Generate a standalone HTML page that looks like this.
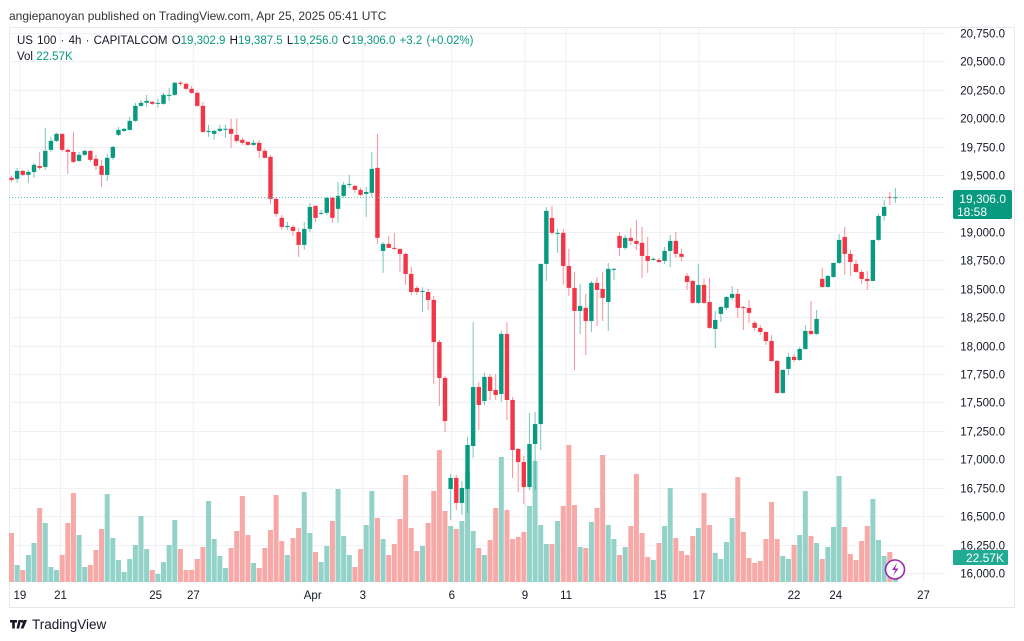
<!DOCTYPE html>
<html><head><meta charset="utf-8">
<style>
body{margin:0;background:#fff;width:1024px;height:641px;overflow:hidden;font-family:"Liberation Sans",sans-serif;}
svg{position:absolute;left:0;top:0;}
</style></head>
<body>
<svg id="c" width="1024" height="641">
<text x="9" y="20" font-size="12" fill="#333">angiepanoyan published on TradingView.com, Apr 25, 2025 05:41 UTC</text>
<rect x="9.5" y="27.5" width="1005" height="580" fill="none" stroke="#e6e8ee"/>
<g id="grid"></g>
<g id="vols"></g>
<g id="candles"></g>
<line x1="9" x2="945" y1="197.5" y2="197.5" stroke="#5fc2b4" stroke-dasharray="1,2"/>
<g id="yaxis"></g>
<g id="xaxis"></g>
<g font-size="11.5">
<text x="17" y="44" fill="#131722" word-spacing="1">US 100 · 4h · CAPITALCOM  <tspan fill="#131722">O</tspan><tspan fill="#089981">19,302.9</tspan>  <tspan fill="#131722">H</tspan><tspan fill="#089981">19,387.5</tspan>  <tspan fill="#131722">L</tspan><tspan fill="#089981">19,256.0</tspan>  <tspan fill="#131722">C</tspan><tspan fill="#089981">19,306.0</tspan>  <tspan fill="#089981">+3.2 (+0.02%)</tspan></text>
<text x="17" y="60" fill="#131722">Vol <tspan fill="#089981">22.57K</tspan></text>
</g>
<rect x="953" y="190" width="59" height="29" rx="2" fill="#089981"/>
<text x="1006" y="203" font-size="12" fill="#fff" text-anchor="end">19,306.0</text>
<text x="957" y="216" font-size="12" fill="#fff">18:58</text>
<rect x="953" y="550" width="55" height="15" rx="1" fill="#22ab94"/>
<text x="1004" y="562" font-size="12" fill="#fff" text-anchor="end">22.57K</text>
<g><circle cx="895" cy="569.5" r="9.5" fill="#fff" stroke="#9c27b0" stroke-width="1.6"/><path d="M897 563 L892 570 L895.5 570 L893 576 L898.5 568.5 L895 568.5 Z" fill="#9c27b0"/></g>
<g><path d="M10 620 h7 v2.5 h-2.2 v6 h-2.6 v-6 h-2.2 Z M18.5 620 h2.6 l-2 8.5 h-2.6 Z" fill="#131722"/><circle cx="22.2" cy="621.3" r="1.4" fill="#131722"/><path d="M24 620 h3 l-3.5 8.5 h-2.8 Z" fill="#131722"/>
<text x="32" y="629" font-size="13.5" fill="#131722">TradingView</text></g>
</svg>
<script>
const open=[19476,19467,19537,19502,19528,19581,19572,19722,19801,19863,19722,19704,19625,19678,19713,19643,19581,19502,19652,19854,19889,19898,19977,20109,20136,20144,20127,20127,20197,20206,20312,20303,20259,20224,20109,19880,19863,19889,19907,19907,19854,19810,19792,19766,19784,19713,19660,19291,19124,19053,19044,19000,18886,19027,19229,19168,19168,19300,19203,19317,19423,19405,19370,19335,19344,19564,18833,18895,18860,18851,18807,18631,18508,18481,18472,18402,18032,17716,16739,16836,16616,16739,17117,17636,17513,17725,17610,17575,18103,17522,17091,16976,16756,17135,17310,18719,19124,18992,18992,18701,18508,18305,18332,18217,18552,18499,18384,18675,18965,18860,18948,18921,18904,18789,18763,18754,18745,18833,18921,18807,18613,18569,18376,18534,18384,18147,18279,18332,18420,18455,18340,18332,18200,18156,18120,18041,17865,17584,17795,17901,17874,17971,18129,18103,18587,18516,18604,18728,18956,18807,18719,18648,18587,18569,18930,19141,19308,19300];
const high=[19493,19564,19546,19546,19608,19704,19916,19836,19872,19863,19731,19880,19704,19722,19722,19678,19634,19687,19757,19924,19916,20012,20136,20162,20206,20153,20171,20224,20268,20320,20328,20312,20285,20241,20144,19942,19898,19942,19942,19995,19995,19828,19801,19810,19810,19731,19678,19308,19150,19088,19062,19036,19088,19256,19238,19194,19308,19308,19440,19440,19502,19414,19388,19396,19704,19863,18912,18965,18992,18851,18816,18692,18525,18516,18499,18437,18050,17734,16871,16862,16809,17196,18208,17680,17760,17751,17751,18129,18208,17548,17100,17029,17408,17416,18719,19220,19229,19027,19027,18851,18648,18543,18455,18569,18604,18648,18728,18684,19000,18974,19036,19106,19044,18956,18781,18772,18868,18974,19000,18851,18640,18578,18719,18587,18596,18305,18349,18437,18525,18499,18349,18402,18217,18182,18129,18094,17874,17795,17936,17927,17988,18182,18393,18314,18684,18622,18728,18983,19044,18842,18754,18666,18657,18930,19159,19282,19352,19387];
const low=[19440,19432,19493,19432,19476,19546,19546,19704,19792,19704,19511,19608,19616,19669,19616,19546,19396,19449,19634,19845,19880,19889,19968,20100,20100,20118,20092,20118,20153,20197,20285,20250,20215,20100,19872,19836,19810,19880,19828,19740,19784,19766,19757,19757,19652,19652,19247,19132,19018,19018,18965,18781,18842,19000,19088,19150,19150,19080,19080,19300,19388,19344,19317,19132,19308,18895,18640,18860,18842,18648,18534,18446,18446,18296,18314,17663,17469,17240,16466,16554,16510,16528,17012,17258,17478,17522,17522,17504,17346,16836,16712,16607,16730,16730,17082,18569,18974,18816,18534,18437,17786,18103,17918,18120,18173,18217,18129,18578,18789,18842,18886,18842,18596,18640,18745,18728,18719,18692,18772,18745,18490,18367,18367,18367,18147,17980,18208,18314,18402,18244,18138,18200,18129,18094,18006,17856,17575,17575,17742,17856,17865,17962,18094,18094,18508,18508,18596,18719,18622,18613,18640,18543,18490,18569,18920,19097,19238,19256];
const close=[19458,19537,19502,19528,19590,19564,19713,19801,19863,19722,19704,19616,19678,19713,19634,19581,19502,19652,19748,19898,19907,19977,20109,20136,20153,20127,20136,20206,20206,20312,20303,20259,20224,20109,19880,19889,19889,19907,19907,19863,19801,19784,19766,19784,19713,19652,19291,19159,19044,19053,19009,18886,19027,19220,19124,19168,19300,19124,19317,19414,19423,19370,19326,19352,19555,18948,18895,18860,18851,18807,18631,18472,18472,18481,18402,18032,17716,17337,16836,16616,16748,17126,17636,17478,17725,17601,17566,18103,17522,17082,16976,16756,17135,17310,18719,19185,18992,18992,18701,18508,18305,18349,18217,18552,18490,18420,18675,18675,18860,18948,18921,18895,18789,18745,18763,18736,18833,18921,18807,18781,18560,18376,18534,18376,18156,18226,18340,18428,18455,18332,18332,18288,18156,18120,18041,17865,17584,17786,17901,17874,17971,18129,18103,18235,18516,18613,18728,18930,18807,18736,18648,18587,18569,18930,19141,19220,19300,19306];
const volumeK=[49,17,12,27,39,74,59,15,12,27,59,89,47,15,17,32,53,88,44,22,10,23,37,66,33,12,8,20,37,62,33,12,12,23,35,81,43,26,14,34,51,86,47,19,14,34,52,87,41,27,44,54,90,49,30,20,36,61,93,46,27,15,33,57,91,64,43,27,38,63,107,54,31,36,59,91,132,71,56,53,61,110,51,34,27,42,74,125,72,43,45,50,76,121,57,38,38,61,76,137,77,35,34,60,74,127,57,43,27,35,56,108,49,25,22,39,56,94,44,31,27,46,54,89,57,29,23,40,64,105,50,24,19,21,43,80,43,26,23,37,47,91,46,39,23,35,55,106,55,28,22,41,56,83,42,26,30,22.57];
const priceTicks=[16000,16250,16500,16750,17000,17250,17500,17750,18000,18250,18500,18750,19000,19250,19500,19750,20000,20250,20500,20750];
const dateLabels=["19","21","25","27","Apr","3","6","9","11","15","17","22","24","27"];
const dateIndex=[1.5,8.7,25.6,32.3,53.5,62.4,78.2,91.2,98.5,115.2,122.1,139,146.4,162];

const NS="http://www.w3.org/2000/svg";
const X0=11.5,STEP=5.63;
const xPos=i=>X0+i*STEP;
const yPrice=p=>573-(p-16000)*0.113684;
const yVol=v=>582-v*1.0;
function mk(tag,attrs,parent){const e=document.createElementNS(NS,tag);for(const k in attrs)e.setAttribute(k,attrs[k]);parent.appendChild(e);return e;}
const grid=document.getElementById('grid'),cg=document.getElementById('candles'),vg=document.getElementById('vols'),ya=document.getElementById('yaxis'),xa=document.getElementById('xaxis');
priceTicks.forEach(p=>{
  const y=Math.round(yPrice(p))+0.5;
  const l=mk('line',{x1:9,x2:945,y1:y,y2:y,stroke:'#f0f1f5'},grid);
  
  
  const t=mk('text',{x:1005,y:y+4,'font-size':11.5,fill:'#131722','text-anchor':'end'},ya);
  t.textContent=p.toLocaleString('en-US')+'.0';
  
  
});
dateLabels.forEach((d,k)=>{
  const x=xPos(dateIndex[k]);
  const l=mk('line',{x1:x,x2:x,y1:28,y2:582,stroke:'#f0f1f5'},grid);
  
  
  const t=mk('text',{x:x,y:599,'font-size':11.5,fill:'#131722','text-anchor':'middle'},xa);
  t.textContent=d;
  
  
});
volumeK.forEach((v,i)=>{
  const up=close[i]>=open[i];
  const y=yVol(v);
  const r=mk('rect',{x:xPos(i)-2.5,y:y,width:5,height:582-y,fill:up?'#92d2c9':'#f7a9a7'},vg);
  
  
});
open.forEach((o,i)=>{
  const c=close[i],up=c>=o,col=up?'#089981':'#f23645',x=xPos(i);
  const g=mk('g',{},cg);
  
  
  mk('line',{x1:x,x2:x,y1:yPrice(high[i]),y2:yPrice(low[i]),stroke:col,'stroke-opacity':0.55,'stroke-width':1},g);
  const yt=yPrice(Math.max(o,c)),yb=yPrice(Math.min(o,c));
  mk('rect',{x:x-2.2,y:yt,width:4.4,height:Math.max(1,yb-yt),fill:col},g);
});
</script>
</body></html>
